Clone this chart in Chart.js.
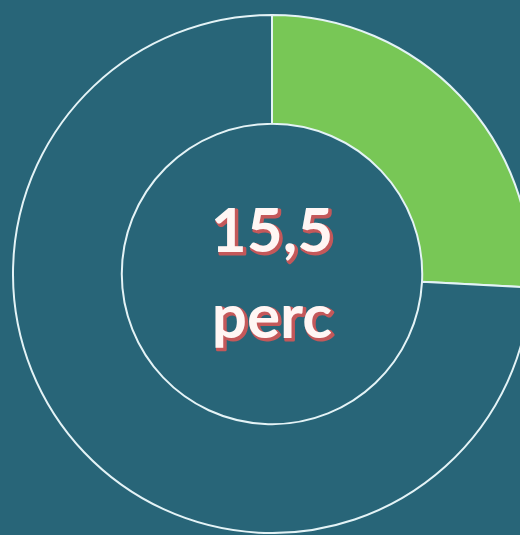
<!DOCTYPE html>
<html lang="hu">
<head>
    <meta charset="UTF-8">
    <title>15,5 perc</title>
    <script src="https://cdn.jsdelivr.net/npm/chart.js"></script>
    <style>
        html, body { margin: 0; width: 520px; height: 535px; overflow: hidden; background: #286578; }
        #chart-container { position: absolute; left: 12px; top: 14px; width: 520px; height: 520px; }
    </style>
</head>
<body>
    <div id="chart-container">
        <canvas id="timeChart"></canvas>
    </div>

    <script>
        const labels = ["Eltelt", "Hátralévő"];
        const minutes = [15.5, 44.5];
        const centerLines = ["15,5", "perc"];

        const centerText = {
            id: "centerText",
            afterDraw(chart) {
                const ctx = chart.ctx;
                const arc = chart.getDatasetMeta(0).data[0];
                const x = arc.x, y = arc.y;
                ctx.save();
                ctx.font = "bold 62px Lato, 'Open Sans', sans-serif";
                ctx.textAlign = "center";
                ctx.textBaseline = "middle";
                const offsets = [-42, 44];
                centerLines.forEach((line, i) => {
                    ctx.lineJoin = "round";
                    ctx.lineWidth = 3;
                    ctx.strokeStyle = "#c4585a";
                    ctx.strokeText(line, x + 2, y + offsets[i] + 2);
                    ctx.fillStyle = "#c4585a";
                    ctx.fillText(line, x + 2, y + offsets[i] + 2);
                    ctx.fillStyle = "#fff6f4";
                    ctx.fillText(line, x, y + offsets[i]);
                });
                ctx.restore();
            }
        };

        new Chart(document.getElementById("timeChart"), {
            type: "doughnut",
            data: {
                labels: labels,
                datasets: [{
                    data: minutes,
                    backgroundColor: ["#78c756", "#286578"],
                    borderColor: "#e4f3f6",
                    borderWidth: 2,
                    hoverOffset: 0
                }]
            },
            options: {
                responsive: true,
                maintainAspectRatio: false,
                animation: false,
                cutout: "58%",
                layout: { padding: 0 },
                plugins: {
                    legend: { display: false },
                    tooltip: { enabled: false }
                }
            },
            plugins: [centerText]
        });
    </script>
</body>
</html>
